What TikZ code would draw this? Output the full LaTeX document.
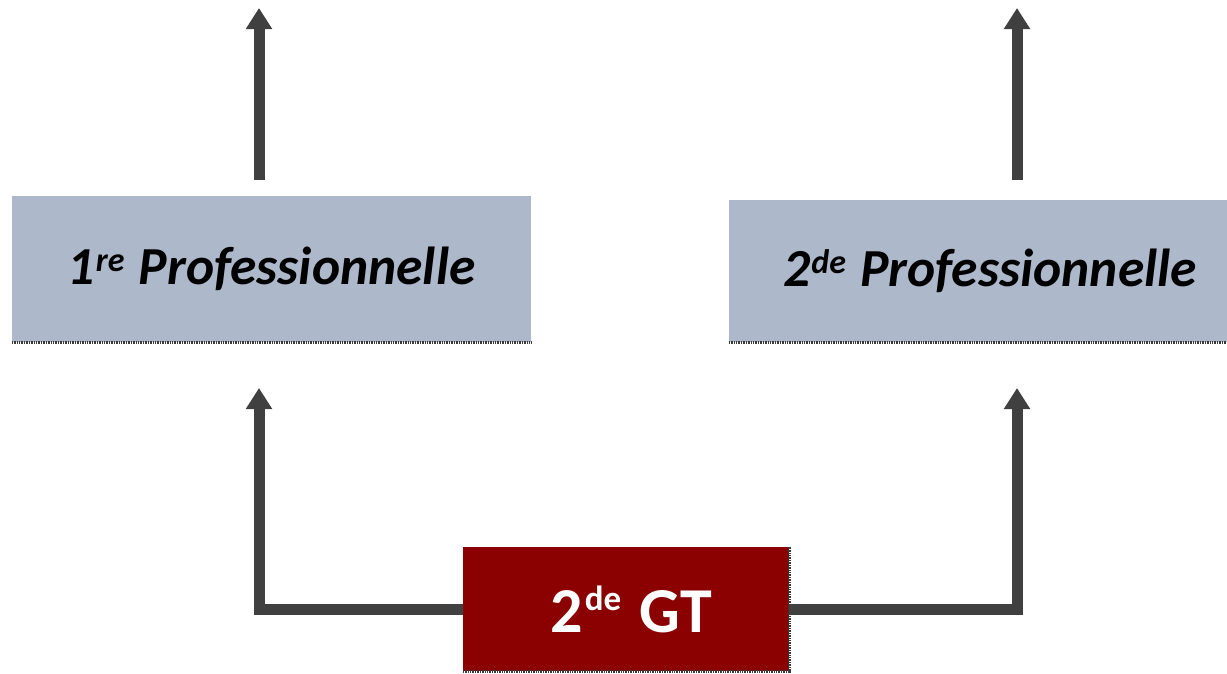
\documentclass[tikz,border=0pt]{standalone}
\usepackage{fontspec}
\setmainfont{Carlito}
\usetikzlibrary{arrows.meta,calc}
\definecolor{boxblue}{HTML}{ADB9CA}
\definecolor{gtred}{HTML}{8B0000}
\definecolor{arrgray}{HTML}{404040}
\definecolor{edgegray}{HTML}{3A3A3A}
\newcommand\mysupP[1]{\hspace{1pt}\raisebox{13pt}{\fontsize{34}{36}\selectfont #1}\hspace{2pt}}
\newcommand\mysupG[1]{\hspace{2pt}\raisebox{22pt}{\fontsize{35}{38}\selectfont #1}\hspace{4pt}}
\tikzset{
  probox/.style={fill=boxblue, draw=none, inner sep=0pt, anchor=north west,
    font=\fontsize{53.5}{60}\selectfont\bfseries\itshape, text=black},
  gtbox/.style={fill=gtred, draw=none, inner sep=0pt, anchor=north west,
    font=\fontsize{64}{70}\selectfont\bfseries, text=white},
  arr/.style={draw=arrgray, line width=11pt, -{Triangle[width=25pt,length=21pt]}},
  edgeline/.style={draw=edgegray, line width=2.5pt, dash pattern=on 1pt off 0.7pt}
}
\begin{document}
\begin{tikzpicture}[x=1pt,y=-1pt]
\useasboundingbox (0,0) rectangle (1227,673);
% boxes
\node[probox, minimum width=519pt, minimum height=146pt] (lbox) at (12,196) {1\mysupP{re} Professionnelle};
\node[probox, minimum width=522pt, minimum height=142pt] (rbox) at (729,200) {2\mysupP{de} Professionnelle};
\node[gtbox, minimum width=326pt, minimum height=124pt] (gt) at (463,547) {\hspace{10pt}2\mysupG{de} GT};
% bottom edges
\draw[edgeline] (lbox.south west) -- (lbox.south east);
\draw[edgeline] (rbox.south west) -- (rbox.south east);
\draw[edgeline] (gt.south west) -- (gt.south east) -- (gt.north east);
% tips
\coordinate (ltip) at (259,8);
\coordinate (rtip) at (1017,8);
\coordinate (lbtip) at (259,388);
\coordinate (rbtip) at (1017,388);
% arrows
\draw[arr, shorten <=16pt] (lbox.north -| ltip) -- (ltip);
\draw[arr, shorten <=20pt] (rbox.north -| rtip) -- (rtip);
\draw[arr] (gt.west) -| (lbtip);
\draw[arr] (gt.east) -| (rbtip);
\end{tikzpicture}
\end{document}
